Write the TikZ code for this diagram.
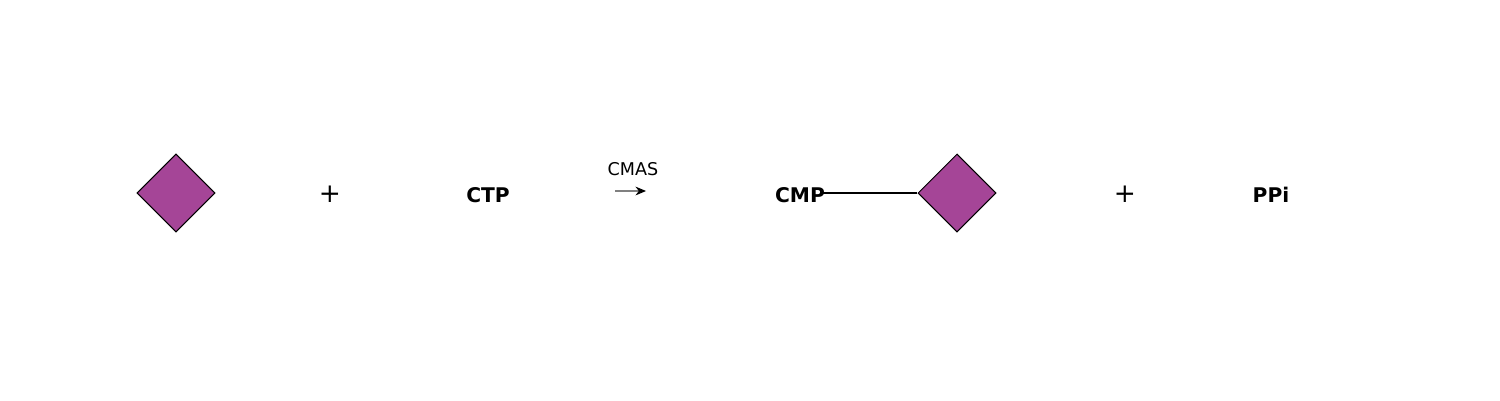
\documentclass[tikz,border=0pt]{standalone}
\usepackage{fontspec}
\setmainfont{DejaVu Sans}
\usetikzlibrary{shapes.geometric,arrows.meta}
\begin{document}
\begin{tikzpicture}[
        x=0.02cm, y=-0.02cm,
        sugar/.style={diamond, draw=black, fill={rgb,255:red,165;green,69;blue,151}, aspect=1, minimum width=1.56cm, minimum height=1.56cm, inner sep=0pt, line width=0.6pt},
        mol/.style={font=\fontsize{11.5}{13}\selectfont\bfseries, inner sep=0pt},
        plus/.style={font=\fontsize{15}{18}\selectfont, inner sep=0pt},
        arrow/.style={draw=gray, line width=0.6pt, -{Stealth[black, length=6pt, width=5pt]}}
    ]
        \useasboundingbox[fill=white] (0,0) rectangle (1500,400);

        % Substrate
        \node[sugar] (sugar1) at (176, 193) {};
        \node[plus] (plus1) at (330, 194) {+};
        \node[mol] (ctp) at (488, 195) {CTP};

        % Reaction
        \coordinate (start) at (615, 191);
        \coordinate (end) at (646, 191);
        \draw[arrow] (start) -- (end);
        \node[font=\fontsize{10}{12}\selectfont] (cmas) at (633, 169) {CMAS};

        % Products
        \node[mol] (cmp) at (800, 195) {CMP};
        \node[sugar] (sugar2) at (957, 193) {};
        \draw[line width=1.1pt] ([xshift=-0.06cm]cmp.east |- sugar2.west) -- (sugar2.west);
        \node[plus] (plus2) at (1125, 194) {+};
        \node[mol] (ppi) at (1271, 195) {PPi};
    \end{tikzpicture}
\end{document}
